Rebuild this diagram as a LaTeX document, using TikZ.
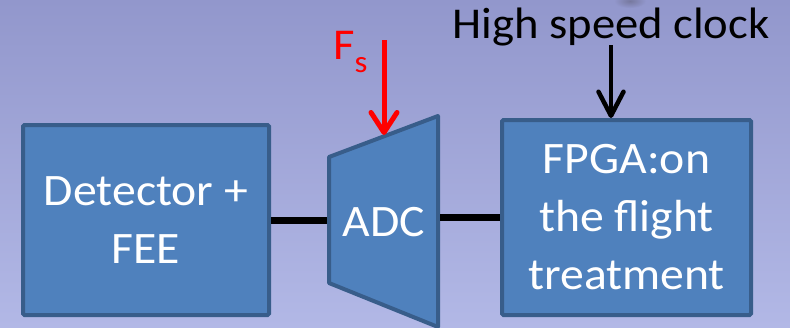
\documentclass[tikz,border=0pt]{standalone}
\usepackage{fontspec}
\setmainfont{Carlito}[FakeStretch=1.06]
\usetikzlibrary{arrows.meta,calc}

\definecolor{bgtop}{RGB}{146,151,204}
\definecolor{bgbot}{RGB}{178,184,230}
\definecolor{blockfill}{RGB}{79,129,189}
\definecolor{blockedge}{RGB}{56,93,138}
\definecolor{fsred}{RGB}{255,0,0}

\tikzset{
  block/.style={draw=blockedge, fill=blockfill, line width=4pt,
    rounded corners=1.5pt, inner sep=0pt, align=center, text=white,
    font=\fontsize{45}{58}\selectfont},
  blocklabel/.style={text=white, inner sep=0pt, align=center,
    font=\fontsize{45}{58}\selectfont},
  link/.style={line width=7pt, black},
  redarrow/.style={line width=5pt, fsred,
    -{Straight Barb[length=20pt,width=26pt,line width=5pt,round]}},
  clockarrow/.style={line width=4.5pt, black,
    -{Straight Barb[length=24pt,width=25pt,line width=4.5pt,round]}},
}

\begin{document}
\begin{tikzpicture}[x=1pt, y=-1pt]
  % background
  \shade[top color=bgtop, bottom color=bgbot] (0,0) rectangle (790,327);
  \useasboundingbox (0,0) rectangle (790,327);
  \shade[inner color={rgb,255:red,118;green,120;blue,158}, outer color=bgtop]
    (630,1) ellipse [x radius=16, y radius=7];

  % detector block
  \node[block, minimum width=246pt, minimum height=190pt] (det) at (146,220)
    {Detector +\\FEE};

  % FPGA block
  \node[block, minimum width=249pt, minimum height=195pt] (fpga) at (626.5,217.5)
    {FPGA:on\\the flight\\treatment};

  % ADC trapezoid
  \coordinate (adcTL) at (329,157);
  \coordinate (adcTR) at (438,116);
  \coordinate (adcBR) at (438,327);
  \coordinate (adcBL) at (329,283);
  \draw[draw=blockedge, fill=blockfill, line width=4pt, line join=round]
    (adcTL) -- (adcTR) -- (adcBR) -- (adcBL) -- cycle;
  \node[blocklabel] (adc) at (384,222) {ADC};
  \coordinate (adcIn) at (327,220);
  \coordinate (adcOut) at (440,217);
  \coordinate (adcTop) at (384,135);

  % signal links
  \draw[link] (det.east |- adcIn) -- (adcIn);
  \draw[link] (adcOut) -- (fpga.west |- adcOut);

  % sampling frequency
  \node[inner sep=0pt, anchor=base west, text=fsred,
        font=\fontsize{44}{50}\selectfont] (fs) at (333,59)
    {F\raisebox{-13pt}{\fontsize{31}{31}\selectfont s}};
  \coordinate (fsStart) at (384,40);
  \draw[redarrow] (fsStart) -- (adcTop);

  % clock input
  \node[inner sep=0pt, anchor=base, font=\fontsize{44}{50}\selectfont] (clk)
    at (611,38) {High speed clock};
  \coordinate (clkStart) at (611,45);
  \draw[clockarrow] (clkStart) -- (clkStart |- fpga.north);
\end{tikzpicture}
\end{document}
